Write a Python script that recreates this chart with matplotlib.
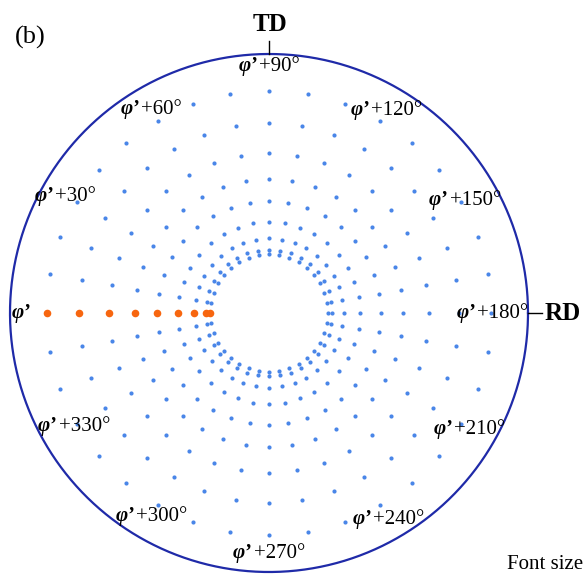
import numpy as np
import matplotlib.pyplot as plt
from matplotlib.offsetbox import TextArea, HPacker, AnnotationBbox


# ring radii, as a fraction of the outer circle radius
ring_r = [0.228, 0.245, 0.288, 0.351, 0.431, 0.519, 0.616, 0.732, 0.857]
ring_deg = np.arange(0, 360, 10)        # one point every 10 deg on each ring
hl_deg = 180                            # the highlighted ray (phi')

label_off = [0, 30, 60, 90, 120, 150, 180, 210, 240, 270, 300, 330]
label_r = [0.957, 0.907, 0.91, 0.953, 0.906, 0.873, 0.862, 0.892, 0.92, 0.927, 0.905, 0.869]

blue = '#4a86e8'
orange = '#f7660f'
navy = '#1f2aa8'
serif = 'Liberation Serif'

fig = plt.figure(figsize=(5.87, 5.75), dpi=100)
ax = fig.add_axes([0, 0, 1, 1])
ax.set_xlim(-269 / 259, (587 - 269) / 259)
ax.set_ylim((313 - 575) / 259, 313 / 259)
ax.set_aspect('equal')
ax.axis('off')

# all the points
rr, tt = np.meshgrid(ring_r, np.radians(ring_deg))
ax.scatter(rr * np.cos(tt), rr * np.sin(tt), s=9, color=blue, linewidths=0, zorder=2)

# highlighted ray
r_hl = np.array(ring_r)
ax.scatter(r_hl * np.cos(np.radians(hl_deg)), r_hl * np.sin(np.radians(hl_deg)),
           s=30, color=orange, linewidths=0, zorder=3)

# outer circle
th = np.linspace(0, 2 * np.pi, 400)
ax.plot(np.cos(th), np.sin(th), color=navy, lw=1.6)

# TD / RD ticks
ax.plot([0, 0], [1, 1.05], color='k', lw=1)
ax.plot([1, 1.054], [0, 0], color='k', lw=1)
ax.text(0.004, 1.112, 'TD', family=serif, weight='bold', size=18, ha='center', va='center')
ax.text(1.135, 0, 'RD', family=serif, weight='bold', size=18, ha='center', va='center')

# angle labels: phi' at the left, going clockwise
for off, r in zip(label_off, label_r):
    t = np.radians(180 - off)
    parts = [TextArea('\u03c6\u2019', textprops=dict(family=serif, weight='bold',
                                                      style='italic', size=15))]
    if off:
        parts.append(TextArea('+%d\u00b0' % off, textprops=dict(family=serif, size=15)))
    box = HPacker(children=parts, align='baseline', pad=0, sep=1)
    ab = AnnotationBbox(box, (r * np.cos(t), r * np.sin(t)), frameon=False,
                        box_alignment=(0.5, 0.5), pad=0)
    ax.add_artist(ab)

fig.text(15 / 587, 1 - 37 / 575, '(b)', family=serif, size=19, va='center', ha='left')
fig.text(507 / 587, 1 - 569 / 575, 'Font size', family=serif, size=15, va='baseline', ha='left')

fig.savefig('out.png', dpi=100)
